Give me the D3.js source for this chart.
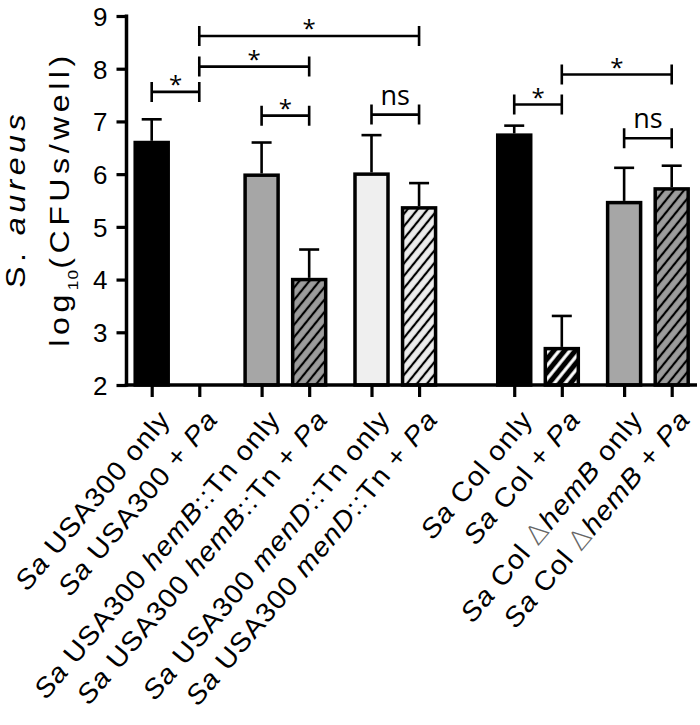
<!DOCTYPE html>
<html><head><meta charset="utf-8">
<script src="https://cdn.jsdelivr.net/npm/d3@7"></script>
<style>body{margin:0;background:#fff}</style>
</head><body><svg id="c" width="700" height="725"></svg>
<script>
// ---- data ----
const categories = [
  [["Sa",1],[" USA300 only",0]],
  [["Sa",1],[" USA300 + ",0],["Pa",1]],
  [["Sa",1],[" USA300 ",0],["hemB",1],["::Tn only",0]],
  [["Sa",1],[" USA300 ",0],["hemB",1],["::Tn + ",0],["Pa",1]],
  [["Sa",1],[" USA300 ",0],["menD",1],["::Tn only",0]],
  [["Sa",1],[" USA300 ",0],["menD",1],["::Tn + ",0],["Pa",1]],
  [["Sa",1],[" Col only",0]],
  [["Sa",1],[" Col + ",0],["Pa",1]],
  [["Sa",1],[" Col ",0],["\u0394",2],["hemB",1],[" only",0]],
  [["Sa",1],[" Col ",0],["\u0394",2],["hemB",1],[" + ",0],["Pa",1]]
];
const strains    = ["USA300","USA300","hemB","hemB","menD","menD","Col","Col","ColhemB","ColhemB"];
const treatments = ["only","Pa","only","Pa","only","Pa","only","Pa","only","Pa"];
const backgrounds = ["USA300","USA300","USA300","USA300","USA300","USA300","Col","Col","Col","Col"];
const means  = [6.60, null, 5.98, 4.00, 6.00, 5.36, 6.74, 2.69, 5.46, 5.72];
const errors = [0.44, null, 0.62, 0.57, 0.74, 0.47, 0.18, 0.62, 0.66, 0.44];
const yTicks = [2,3,4,5,6,7,8,9];
// comparisons: bar A, bar B, bracket level (log10 units), label
const compA = [0,1,1,2,4,6,7,8];
const compB = [1,3,5,3,5,7,9,9];
const compLevel = [7.56,8.04,8.62,7.11,7.13,7.32,7.89,6.68];
const compLabel = ["*","*","*","*","ns","*","*","ns"];

// ---- styles ----
const baseColor = {USA300:"#000000", hemB:"#a6a6a6", menD:"#efefef", Col:"#000000", ColhemB:"#a6a6a6"};
const FONT = "'Liberation Sans', Arial, Helvetica, sans-serif";

const svg = d3.select("#c");
const defs = svg.append("defs");
function makeHatch(id, bg, lineW, period){
  const p = defs.append("pattern").attr("id",id).attr("patternUnits","userSpaceOnUse")
    .attr("width",period).attr("height",period).attr("patternTransform","rotate(39)");
  p.append("rect").attr("width",period).attr("height",period).attr("fill",bg);
  p.append("line").attr("x1",period/2).attr("y1",-1).attr("x2",period/2).attr("y2",period+1)
    .attr("stroke","#000").attr("stroke-width",lineW);
}
makeHatch("h-gray","#9c9c9c",2.2,7.8);
makeHatch("h-light","#ededed",2.2,7.8);
makeHatch("h-black","#ffffff",5.2,8.4);
function fillFor(i){
  const s = strains[i];
  if(treatments[i]==="Pa"){
    if(baseColor[s]==="#000000") return "url(#h-black)";
    if(s==="menD") return "url(#h-light)";
    return "url(#h-gray)";
  }
  return baseColor[s];
}

// ---- scales ----
const slot = i => i + 0.31*Math.floor(i/2) + (backgrounds[i]==="Col" ? 0.69 : 0);
const x = d3.scaleLinear().domain([0, slot(9)]).range([151.7, 671.7]);
const y = d3.scaleLinear().domain([2, 9]).range([385, 16]);
const axisLeftX = 126.5, axisRightX = 697;
const barW = 33;

const idx = d3.range(categories.length);

// bars
svg.append("g").selectAll("rect").data(idx.filter(i=>means[i]!==null)).join("rect")
  .attr("x", i => x(slot(i)) - barW/2)
  .attr("y", i => y(means[i]))
  .attr("width", barW)
  .attr("height", i => y(2) - y(means[i]))
  .attr("fill", i => fillFor(i))
  .attr("stroke","#000").attr("stroke-width",3.5);

// error bars (upper only)
const eg = svg.append("g").attr("stroke","#000").attr("stroke-width",2.6);
idx.filter(i=>errors[i]!==null).forEach(i=>{
  const cx = x(slot(i));
  eg.append("line").attr("x1",cx).attr("x2",cx).attr("y1",y(means[i])-1.7).attr("y2",y(means[i]+errors[i]));
  eg.append("line").attr("x1",cx-10).attr("x2",cx+10).attr("y1",y(means[i]+errors[i])).attr("y2",y(means[i]+errors[i]));
});

// axes
const yAxis = d3.axisLeft(y).tickValues(yTicks).tickSize(10).tickPadding(9).tickFormat(d3.format("d"));
const gy = svg.append("g").attr("transform",`translate(${axisLeftX},0)`).call(yAxis);
gy.select(".domain").remove();
gy.selectAll(".tick line").attr("stroke","#000").attr("stroke-width",3.2);
gy.selectAll(".tick text").attr("font-family",FONT).attr("font-size",26).attr("fill","#000").attr("dy","0.36em");
svg.append("line").attr("x1",axisLeftX).attr("x2",axisLeftX).attr("y1",y(9)-1.5).attr("y2",y(2)+1.7)
  .attr("stroke","#000").attr("stroke-width",3.5);

const xAxis = d3.axisBottom(x).tickValues(idx.map(slot)).tickSize(12).tickFormat("");
const gx = svg.append("g").attr("transform",`translate(0,${y(2)})`).call(xAxis);
gx.select(".domain").remove();
gx.selectAll(".tick line").attr("stroke","#000").attr("stroke-width",3.2);
svg.append("line").attr("x1",axisLeftX-1.7).attr("x2",axisRightX).attr("y1",y(2)).attr("y2",y(2))
  .attr("stroke","#000").attr("stroke-width",3.5);

// x labels
const lab = svg.append("g").attr("font-family",FONT).attr("font-size",27).attr("fill","#000");
idx.forEach(i=>{
  const t = lab.append("text").attr("text-anchor","end").attr("letter-spacing",1.0)
    .attr("transform",`translate(${x(slot(i))+20},${y(2)+35}) rotate(-50) scale(1.06,1)`);
  categories[i].forEach(([s,it])=>{
    const ts = t.append("tspan").text(s).attr("font-style", it===1 ? "italic" : "normal");
    if(it===2) ts.attr("fill","#666").attr("font-family","'DejaVu Sans', sans-serif").attr("font-weight",200);
  });
});

// y title
const tg = svg.append("g").attr("font-family",FONT).attr("font-size",28).attr("fill","#000");
const t1 = tg.append("text").attr("text-anchor","middle").attr("letter-spacing",3.9)
  .attr("transform","translate(25,199) rotate(-90) scale(1.15,1)");
t1.append("tspan").text("S. ");
t1.append("tspan").text("aureus").attr("font-style","italic");
const t2 = tg.append("text").attr("text-anchor","middle").attr("letter-spacing",3.9)
  .attr("transform","translate(69,199) rotate(-90) scale(1.15,1)");
t2.append("tspan").text("log");
t2.append("tspan").text("10").attr("font-size",15).attr("dy",9).attr("letter-spacing",1);
t2.append("tspan").text("(CFUs/well)").attr("dy",-9);

// significance brackets
const bg = svg.append("g");
compA.forEach((a,k)=>{
  const x1 = x(slot(a)), x2 = x(slot(compB[k])), yy = y(compLevel[k]);
  bg.append("path").attr("d",`M${x1},${yy-10}V${yy+10}M${x1},${yy}H${x2}M${x2},${yy-10}V${yy+10}`)
    .attr("fill","none").attr("stroke","#000").attr("stroke-width",2.6);
  const isNs = compLabel[k]==="ns";
  bg.append("text").attr("x",(x1+x2)/2).attr("y", isNs ? yy-10 : yy+1)
    .attr("text-anchor","middle").attr("font-family","'Open Sans', sans-serif")
    .attr("font-size", isNs ? 27 : 24).attr("fill","#000").text(compLabel[k]);
});
</script></body></html>
